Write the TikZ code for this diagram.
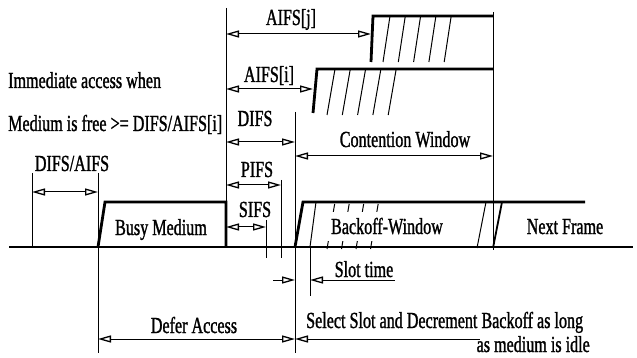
\documentclass[tikz,border=0pt]{standalone}
\usepackage{fontspec}
\setmainfont{Liberation Serif}[FakeStretch=0.70,FakeBold=1.2]
\usetikzlibrary{arrows.meta}
\tikzset{
  lnthin/.style={line width=1pt},
  lnthick/.style={line width=2.8pt},
  otri/.tip={Triangle[open,length=13pt,width=7pt,line width=1.3pt]},
  dim/.style={lnthin,otri-otri},
  dimr/.style={lnthin,-otri},
  diml/.style={lnthin,otri-},
  lbl/.style={font=\fontsize{23}{23}\selectfont,inner sep=0pt,anchor=base},
}
\begin{document}
\begin{tikzpicture}[x=1pt,y=-1pt]
\useasboundingbox (0,0) rectangle (637,358);
% ---- coordinates
\coordinate (baseL) at (9,247);   \coordinate (baseR) at (633,247);
\coordinate (v32t) at (32,173);   \coordinate (v32b) at (32,247);
\coordinate (v98t) at (98,173);   \coordinate (v98b) at (98,353);
\coordinate (v226t) at (226,8);   \coordinate (v226b) at (226,247);
\coordinate (v266t) at (266,220); \coordinate (v266b) at (266,258);
\coordinate (v281t) at (281,180); \coordinate (v281b) at (281,258);
\coordinate (v295t) at (295,112); \coordinate (v295b) at (295,353);
\coordinate (v310t) at (310,247); \coordinate (v310b) at (310,296);
\coordinate (v493t) at (493,12);  \coordinate (v493b) at (493,250);
% arrow ends
\coordinate (da1) at (32,192);  \coordinate (da2) at (98,192);
\coordinate (si1) at (226,227); \coordinate (si2) at (266,227);
\coordinate (pi1) at (226,185); \coordinate (pi2) at (281,185);
\coordinate (di1) at (226,142); \coordinate (di2) at (295,142);
\coordinate (ai1) at (226,89);  \coordinate (ai2) at (313,89);
\coordinate (aj1) at (226,34);  \coordinate (aj2) at (371,34);
\coordinate (cw1) at (295,156); \coordinate (cw2) at (493,156);
\coordinate (st0) at (273,280); \coordinate (st1) at (295,280);
\coordinate (st2) at (310,280); \coordinate (st3) at (395,280);
\coordinate (de1) at (98,339);  \coordinate (de2) at (295,339);
\coordinate (se1) at (295,339); \coordinate (se2) at (480,339);
% ---- medium line
\draw[lnthick] (baseL) -- (baseR);
% ---- busy medium
\draw[lnthick] (98,247) -- (105,202) -- (226,202) -- (226,247);
% ---- AIFS[i] staircase
\draw[lnthick] (313,113) -- (317,69) -- (493,69);
\foreach \k in {0,...,4} \draw[lnthin] (327+15.3*\k,115) -- (335+15.3*\k,69);
% ---- AIFS[j] staircase
\draw[lnthick] (371,62) -- (373,16) -- (493,16);
\foreach \k in {0,...,4} \draw[lnthin] (383+15.3*\k,62) -- (390+15.3*\k,16);
% ---- backoff window and next frame
\draw[lnthick] (295,247) -- (303,202) -- (585,202);
\draw[lnthin] (310,247) -- (316,202);
\foreach \k in {0,...,3} \draw[lnthin,dash pattern=on 8pt off 29.7pt on 8pt] (327+14.5*\k,249) -- (335+14.5*\k,202);
\draw[lnthin] (477,248) -- (486,202);
\draw[line width=1.8pt] (493,248) -- (502,202);
% ---- verticals
\draw[lnthin] (v32t) -- (v32b);
\draw[lnthin] (v98t) -- (v98b);
\draw[lnthin] (v226t) -- (v226b);
\draw[lnthin] (v266t) -- (v266b);
\draw[lnthin] (v281t) -- (v281b);
\draw[lnthin] (v295t) -- (v295b);
\draw[lnthin] (v310t) -- (v310b);
\draw[lnthin] (v493t) -- (v493b);
% ---- dimension arrows
\draw[dim] (da1) -- (da2);
\draw[dim] (si1) -- (si2);
\draw[dim] (pi1) -- (pi2);
\draw[dim] (di1) -- (di2);
\draw[dim] (ai1) -- (ai2);
\draw[dim] (aj1) -- (aj2);
\draw[dim] (cw1) -- (cw2);
\draw[dimr] (st0) -- (st1);
\draw[diml] (st2) -- (st3);
\draw[dim] (de1) -- (de2);
\draw[diml] (se1) -- (se2);
% ---- labels
\node[lbl,anchor=base west] (tImm) at (8,88) {Immediate access when};
\node[lbl,anchor=base west] (tMed) at (8,131) {Medium is free >= DIFS/AIFS[i]};
\node[lbl] (tDA) at (72,171) {DIFS/AIFS};
\node[lbl] (tAj) at (291,25) {AIFS[j]};
\node[lbl] (tAi) at (269,82) {AIFS[i]};
\node[lbl] (tDI) at (255,126) {DIFS};
\node[lbl] (tPI) at (257,177) {PIFS};
\node[lbl] (tSI) at (255,217) {SIFS};
\node[lbl] (tCW) at (405,147) {Contention Window};
\node[lbl] (tBM) at (161,235) {Busy Medium};
\node[lbl] (tBW) at (387,234) {Backoff-Window};
\node[lbl] (tNF) at (565,234) {Next Frame};
\node[lbl] (tST) at (364,277) {Slot time};
\node[lbl] (tDe) at (194,333) {Defer Access};
\node[lbl,anchor=base west] (tSe) at (306,328) {Select Slot and Decrement Backoff as long};
\node[lbl,anchor=base east] (tId) at (590,352) {as medium is idle};
\end{tikzpicture}
\end{document}
